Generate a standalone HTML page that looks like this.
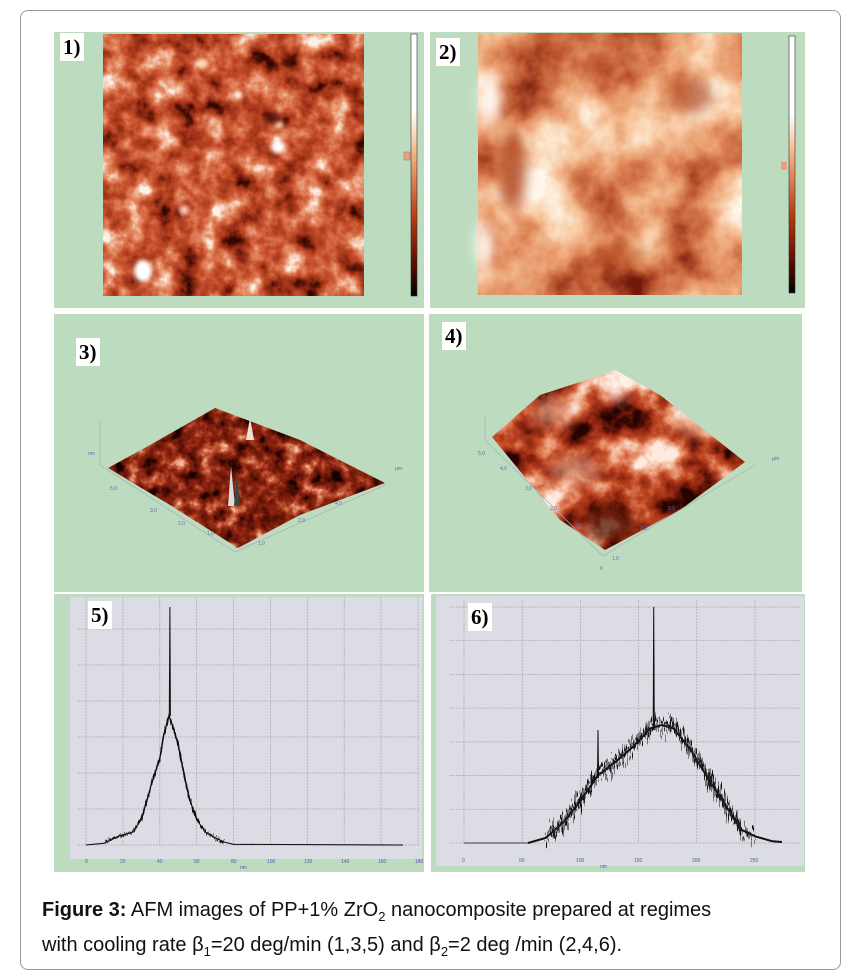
<!DOCTYPE html><html><head><meta charset="utf-8"><style>
body{margin:0;background:#fff;width:861px;height:979px;position:relative;overflow:hidden;font-family:"Liberation Sans",sans-serif}
.frame{position:absolute;left:20px;top:10px;width:819px;height:958px;border:1px solid #999;border-radius:8px}
.lbl{position:absolute;background:#fff;font-family:"Liberation Serif",serif;font-weight:bold;font-size:21px;padding:2px 3px;line-height:24px}
svg{position:absolute;left:0;top:0}
.cap{position:absolute;left:42px;top:896px;font-size:20px;line-height:29px;color:#111}
</style></head><body>
<div class="frame"></div>
<svg width="861" height="979" viewBox="0 0 861 979">
<defs>
<filter id="afm" x="0" y="0" width="1" height="1" color-interpolation-filters="sRGB">
<feTurbulence type="fractalNoise" baseFrequency="0.04" numOctaves="4" seed="3"/>
<feColorMatrix type="matrix" values="1.6 0 0 0 -0.3  1.6 0 0 0 -0.3  1.6 0 0 0 -0.3  0 0 0 0 1"/>
<feComponentTransfer><feFuncR type="table" tableValues="0.2 0.6 0.78 0.9 1"/><feFuncG type="table" tableValues="0.02 0.18 0.32 0.55 0.95"/><feFuncB type="table" tableValues="0 0.08 0.18 0.4 0.9"/></feComponentTransfer>
</filter>
<filter id="afm2" x="0" y="0" width="1" height="1" color-interpolation-filters="sRGB">
<feTurbulence type="fractalNoise" baseFrequency="0.012" numOctaves="5" seed="9"/>
<feColorMatrix type="matrix" values="1.8 0 0 0 -0.4  1.8 0 0 0 -0.4  1.8 0 0 0 -0.4  0 0 0 0 1"/>
<feComponentTransfer><feFuncR type="table" tableValues="0.45 0.75 0.9 0.97 1"/><feFuncG type="table" tableValues="0.1 0.35 0.58 0.78 0.97"/><feFuncB type="table" tableValues="0.05 0.2 0.4 0.62 0.92"/></feComponentTransfer>
</filter>
<filter id="afm3" x="0" y="0" width="1" height="1" color-interpolation-filters="sRGB">
<feTurbulence type="fractalNoise" baseFrequency="0.07" numOctaves="4" seed="5"/>
<feColorMatrix type="matrix" values="1.6 0 0 0 -0.35  1.6 0 0 0 -0.35  1.6 0 0 0 -0.35  0 0 0 0 1"/>
<feComponentTransfer><feFuncR type="table" tableValues="0.1 0.4 0.56 0.78 0.95"/><feFuncG type="table" tableValues="0 0.08 0.15 0.35 0.75"/><feFuncB type="table" tableValues="0 0.03 0.07 0.22 0.65"/></feComponentTransfer>
</filter>
<filter id="afm4" x="0" y="0" width="1" height="1" color-interpolation-filters="sRGB">
<feTurbulence type="fractalNoise" baseFrequency="0.025" numOctaves="5" seed="11"/>
<feColorMatrix type="matrix" values="2 0 0 0 -0.5  2 0 0 0 -0.5  2 0 0 0 -0.5  0 0 0 0 1"/>
<feComponentTransfer><feFuncR type="table" tableValues="0.15 0.55 0.75 0.92 1"/><feFuncG type="table" tableValues="0.01 0.14 0.28 0.6 0.92"/><feFuncB type="table" tableValues="0 0.06 0.14 0.45 0.88"/></feComponentTransfer>
</filter>
<filter id="blur" color-interpolation-filters="sRGB"><feGaussianBlur stdDeviation="2"/></filter>
<filter id="blur6" color-interpolation-filters="sRGB"><feGaussianBlur stdDeviation="6"/></filter>
<filter id="jag5" x="-0.1" y="-0.3" width="1.2" height="1.6" color-interpolation-filters="sRGB">
<feTurbulence type="fractalNoise" baseFrequency="0.9 0.03" numOctaves="2" seed="2"/>
<feColorMatrix type="matrix" values="1 0 0 0 0  0 0 0 0 0.5  0 0 0 0 0  0 0 0 0 1" result="n"/>
<feDisplacementMap in="SourceGraphic" in2="n" scale="10" xChannelSelector="G" yChannelSelector="R"/>
</filter>
<filter id="jag6" x="-0.1" y="-0.4" width="1.2" height="1.8" color-interpolation-filters="sRGB">
<feTurbulence type="fractalNoise" baseFrequency="0.8 0.02" numOctaves="2" seed="4"/>
<feColorMatrix type="matrix" values="1 0 0 0 0  0 0 0 0 0.5  0 0 0 0 0  0 0 0 0 1" result="n"/>
<feDisplacementMap in="SourceGraphic" in2="n" scale="45" xChannelSelector="G" yChannelSelector="R"/>
</filter>
<filter id="jag6b" x="-0.1" y="-0.4" width="1.2" height="1.8" color-interpolation-filters="sRGB">
<feTurbulence type="fractalNoise" baseFrequency="1.1 0.04" numOctaves="2" seed="8"/>
<feColorMatrix type="matrix" values="1 0 0 0 0  0 0 0 0 0.5  0 0 0 0 0  0 0 0 0 1" result="n"/>
<feDisplacementMap in="SourceGraphic" in2="n" scale="35" xChannelSelector="G" yChannelSelector="R"/>
</filter>
<linearGradient id="cb" x1="0" y1="0" x2="0" y2="1"><stop offset="0" stop-color="#fff"/><stop offset="0.3" stop-color="#fff"/><stop offset="0.45" stop-color="#f4b888"/><stop offset="0.7" stop-color="#b83a10"/><stop offset="0.88" stop-color="#5a0c00"/><stop offset="1" stop-color="#000"/></linearGradient>
<clipPath id="d3"><polygon points="108,468 150,445 215,408 300,440 385,483 300,515 238,548 170,505"/></clipPath>
<clipPath id="d4"><polygon points="492,437 540,395 580,382 615,370 660,395 745,462 680,510 605,550 560,520"/></clipPath>
</defs>
<g fill="#bddcbf">
<rect x="54" y="32" width="370" height="276"/><rect x="430" y="32" width="375" height="276"/>
<rect x="54" y="314" width="370" height="278"/><rect x="429" y="314" width="373" height="278"/>
<rect x="54" y="594" width="370" height="278"/><rect x="431" y="594" width="374" height="278"/>
</g>
<rect x="103" y="34" width="261" height="262" filter="url(#afm)"/>
<g filter="url(#blur)" fill="#fff">
<ellipse cx="143" cy="271" rx="9" ry="11"/><ellipse cx="278" cy="147" rx="7" ry="6"/><ellipse cx="238" cy="95" rx="4" ry="4"/>
<ellipse cx="203" cy="63" rx="5" ry="4" fill="#fdb"/><ellipse cx="279" cy="125" rx="4" ry="4" fill="#fdb"/><ellipse cx="184" cy="210" rx="5" ry="5" fill="#fcb"/>
</g>
<g fill="#200" opacity="0.6" filter="url(#blur)"><ellipse cx="290" cy="62" rx="8" ry="5"/><ellipse cx="272" cy="118" rx="8" ry="6"/></g>
<rect x="411" y="34" width="6" height="262" fill="url(#cb)" stroke="#333" stroke-width="0.6"/>
<rect x="404" y="152" width="6" height="8" fill="#e8a080" stroke="#c66" stroke-width="0.5"/>
<rect x="478" y="33" width="264" height="262" filter="url(#afm2)"/>
<g filter="url(#blur6)"><ellipse cx="490" cy="100" rx="10" ry="25" fill="#fff" opacity="0.9"/><ellipse cx="484" cy="245" rx="8" ry="22" fill="#fff" opacity="0.9"/><ellipse cx="512" cy="170" rx="14" ry="40" fill="#a83a14" opacity="0.75"/><ellipse cx="690" cy="95" rx="22" ry="18" fill="#a83a14" opacity="0.65"/><ellipse cx="620" cy="255" rx="25" ry="14" fill="#b04818" opacity="0.5"/></g>
<rect x="789" y="36" width="6" height="257" fill="url(#cb)" stroke="#333" stroke-width="0.6"/>
<rect x="781" y="162" width="6" height="8" fill="#e8a080"/>
<rect x="105" y="405" width="285" height="145" filter="url(#afm3)" clip-path="url(#d3)"/>
<polygon points="246,440 250,418 254,440" fill="#f0e0d4"/>
<polygon points="228,506 231,466 235,506" fill="#ddd"/><polygon points="234,506 237,470 240,506" fill="#444"/>
<g stroke="#aab" stroke-width="0.7" fill="none"><polyline points="100,465 235,552 385,485"/><line x1="100" y1="420" x2="100" y2="465"/></g>
<g fill="#66a" font-size="5"><text x="110" y="490">5,0</text><text x="150" y="512">3,0</text><text x="178" y="525">2,0</text><text x="207" y="535">1,0</text><text x="235" y="548">0</text><text x="258" y="545">1,0</text><text x="298" y="522">2,0</text><text x="335" y="505">4,0</text><text x="395" y="470">µm</text><text x="88" y="455">nm</text></g>
<rect x="488" y="365" width="262" height="190" filter="url(#afm4)" clip-path="url(#d4)"/>
<g filter="url(#blur6)" clip-path="url(#d4)"><ellipse cx="616" cy="388" rx="10" ry="12" fill="#fff" opacity="0.8"/><ellipse cx="555" cy="412" rx="22" ry="14" fill="#f0c8b0" opacity="0.5"/><ellipse cx="700" cy="420" rx="28" ry="16" fill="#f0c8b0" opacity="0.5"/><ellipse cx="575" cy="470" rx="25" ry="14" fill="#f0c8b0" opacity="0.5"/><ellipse cx="610" cy="525" rx="25" ry="18" fill="#300800" opacity="0.6"/></g>
<g stroke="#aab" stroke-width="0.7" fill="none"><polyline points="485,440 603,556 755,465"/><line x1="485" y1="415" x2="485" y2="440"/></g>
<g fill="#66a" font-size="5"><text x="478" y="455">5,0</text><text x="500" y="470">4,0</text><text x="525" y="490">3,0</text><text x="550" y="510">2,0</text><text x="575" y="527">1,0</text><text x="600" y="570">0</text><text x="612" y="560">1,0</text><text x="640" y="530">2,0</text><text x="668" y="510">3,0</text><text x="715" y="480">5,0</text><text x="772" y="460">µm</text></g>
<rect x="70" y="597" width="352" height="262" fill="#dcdce4"/>
<g stroke="#aaa" stroke-width="0.7" stroke-dasharray="2,1">
<path d="M86 597V845M122.9 597V845M159.8 597V845M196.6 597V845M233.5 597V845M270.4 597V845M307.3 597V845M344.2 597V845M381 597V845M418 597V845"/>
<path d="M78 845H420M78 809H420M78 773H420M78 737H420M78 701H420M78 665H420M78 629H420"/>
</g>
<g fill="#55a" font-size="5"><text x="85" y="863">0</text><text x="120" y="863">20</text><text x="157" y="863">40</text><text x="194" y="863">60</text><text x="231" y="863">80</text><text x="267" y="863">100</text><text x="304" y="863">120</text><text x="341" y="863">140</text><text x="378" y="863">160</text><text x="415" y="863">180</text><text x="240" y="869">nm</text></g>
<g stroke="#111" fill="none">
<polyline stroke-width="1.1" points="86,845 104.4,843.2 119.2,836 132.1,832.4 141.3,819.8 150.5,787.4 156.1,769.4 159.8,758.6 163.4,737 167.1,722.6 169,715.4 172.7,726.2 178.2,744.2 183.7,773 189.3,798.2 196.6,819.8 205.9,832.4 215.1,837.8 224.3,842.1 233.5,844.3 403,845"/>
<polyline filter="url(#jag5)" stroke-width="1.8" points="104.4,843.2 119.2,836 132.1,832.4 141.3,819.8 150.5,787.4 156.1,769.4 159.8,758.6 163.4,737 167.1,722.6 169,715.4 172.7,726.2 178.2,744.2 183.7,773 189.3,798.2 196.6,819.8 205.9,832.4 215.1,837.8 224.3,842.1"/>
<polyline stroke-width="1" points="169.3,716 169.9,607 170.4,716"/>
</g>
<rect x="436" y="596" width="368" height="270" fill="#dcdce4"/>
<g stroke="#aaa" stroke-width="0.7" stroke-dasharray="2,1">
<path d="M464 600V843M522.2 600V843M580.4 600V843M638.6 600V843M696.8 600V843M755 600V843"/>
<path d="M450 843H800M450 809.3H800M450 775.6H800M450 741.9H800M450 708.1H800M450 674.4H800M450 640.7H800M450 607H800"/>
</g>
<g fill="#55a" font-size="5"><text x="462" y="862">0</text><text x="519" y="862">50</text><text x="576" y="862">100</text><text x="634" y="862">150</text><text x="692" y="862">200</text><text x="750" y="862">250</text><text x="600" y="868">nm</text></g>
<g stroke="#111" fill="none">
<polyline stroke-width="0.8" points="464,843 528,843"/>
<polyline stroke-width="2" points="528,843 545.5,838 563,822.8 580.4,800.8 597.9,775.6 615.3,762.1 632.8,746.9 650.2,728.4 661.9,725 673.5,728.4 691,750.3 708.4,779 725.9,805.9 741,829.5 755,836.3 772.5,841.3 782,842"/>
<polyline filter="url(#jag6)" stroke-width="4" points="545.5,838 563,822.8 580.4,800.8 597.9,775.6 615.3,762.1 632.8,746.9 650.2,728.4 661.9,725 673.5,728.4 691,750.3 708.4,779 725.9,805.9 741,829.5 755,836.3"/>
<polyline filter="url(#jag6b)" stroke-width="3" stroke="#222" points="550,835 563,820 580.4,798 597.9,774 615.3,760 632.8,744 650.2,725 661.9,722 673.5,726 691,748 708.4,777 725.9,804 741,828"/>
<polyline stroke-width="1" points="653.2,730 653.7,607 654.3,730"/>
<polyline stroke-width="1" points="597.5,778 598,730 598.5,778"/>
</g>
</svg>
<div class="lbl" style="left:60px;top:33px">1)</div>
<div class="lbl" style="left:436px;top:38px">2)</div>
<div class="lbl" style="left:76px;top:338px">3)</div>
<div class="lbl" style="left:442px;top:322px">4)</div>
<div class="lbl" style="left:88px;top:601px">5)</div>
<div class="lbl" style="left:468px;top:603px">6)</div>
<div class="cap"><b>Figure 3:</b> AFM images of PP+1% ZrO<sub style="font-size:13px">2</sub> nanocomposite prepared at regimes<br>with cooling rate β<sub style="font-size:13px">1</sub>=20 deg/min (1,3,5) and β<sub style="font-size:13px">2</sub>=2 deg /min (2,4,6).</div>
</body></html>
